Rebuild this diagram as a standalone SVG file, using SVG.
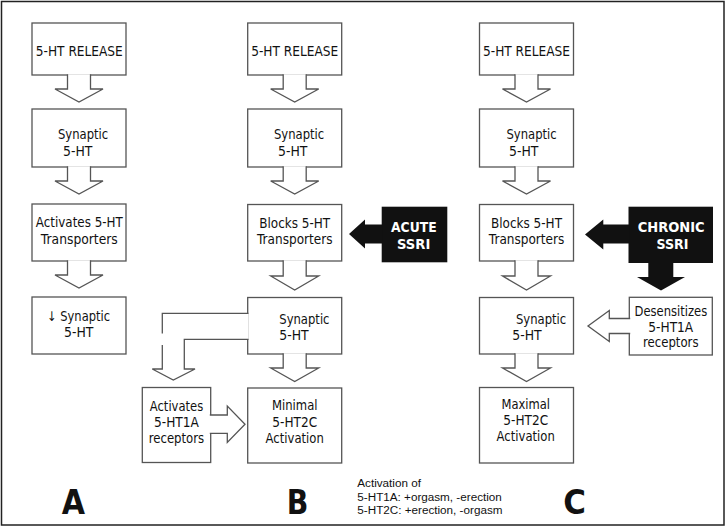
<svg xmlns="http://www.w3.org/2000/svg" width="728" height="527" viewBox="0 0 728 527">
<style>
.box{fill:#fff;stroke:#555;stroke-width:1.3}
.arr{fill:#fff;stroke:#555;stroke-width:1.3;stroke-linejoin:miter}
.fillw{fill:#fff;stroke:none}
.strk{fill:none;stroke:#555;stroke-width:1.3}
.blk{fill:#111}
.t{font-family:"DejaVu Sans",Verdana,sans-serif;font-size:13.5px;fill:#111}
.tb{font-family:"DejaVu Sans",Verdana,sans-serif;font-weight:bold;font-size:14px;fill:#fff}
.big{font-family:"DejaVu Sans",Verdana,sans-serif;font-weight:bold;font-size:34px;fill:#111}
.leg{font-family:"Liberation Sans",Arial,sans-serif;font-size:11.7px;fill:#111}
</style>
<rect width="728" height="527" fill="#fff"/>
<rect x="1.5" y="1.5" width="722.5" height="523.5" fill="none" stroke="#222" stroke-width="1.5"/>

<!-- Column A -->
<g id="a1"><rect class="box" x="32" y="23" width="94" height="52"/>
<text class="t" x="35.8" y="55.8" textLength="87" lengthAdjust="spacingAndGlyphs">5-HT RELEASE</text></g>
<g id="a2"><rect class="box" x="32" y="109" width="94" height="58"/>
<text class="t" x="58" y="138.5" textLength="50.2" lengthAdjust="spacingAndGlyphs">Synaptic</text>
<text class="t" x="63" y="155.5" textLength="29.4" lengthAdjust="spacingAndGlyphs">5-HT</text></g>
<g id="a3"><rect class="box" x="32" y="204" width="94" height="57"/>
<text class="t" x="35.8" y="227" textLength="87" lengthAdjust="spacingAndGlyphs">Activates 5-HT</text>
<text class="t" x="40.8" y="243.5" textLength="77" lengthAdjust="spacingAndGlyphs">Transporters</text></g>
<g id="a4"><rect class="box" x="32" y="297" width="94" height="57"/>
<text class="t" x="47" y="320.5" textLength="63" lengthAdjust="spacingAndGlyphs">↓ Synaptic</text>
<text class="t" x="64" y="336.5" textLength="29.4" lengthAdjust="spacingAndGlyphs">5-HT</text></g>

<!-- Column B -->
<g id="b1"><rect class="box" x="247.7" y="23" width="94" height="52"/>
<text class="t" x="251.2" y="55.8" textLength="87" lengthAdjust="spacingAndGlyphs">5-HT RELEASE</text></g>
<g id="b2"><rect class="box" x="247.7" y="109" width="94" height="58"/>
<text class="t" x="274" y="138.5" textLength="50.2" lengthAdjust="spacingAndGlyphs">Synaptic</text>
<text class="t" x="278" y="155.5" textLength="29.4" lengthAdjust="spacingAndGlyphs">5-HT</text></g>
<g id="b3"><rect class="box" x="247.7" y="204.5" width="94" height="56.5"/>
<text class="t" x="259.2" y="227.8" textLength="71" lengthAdjust="spacingAndGlyphs">Blocks 5-HT</text>
<text class="t" x="257" y="243.5" textLength="75.5" lengthAdjust="spacingAndGlyphs">Transporters</text></g>
<g id="b4"><rect class="box" x="247.7" y="297.5" width="94" height="56.5"/>
<text class="t" x="279.3" y="324" textLength="50.2" lengthAdjust="spacingAndGlyphs">Synaptic</text>
<text class="t" x="279.3" y="340" textLength="29.4" lengthAdjust="spacingAndGlyphs">5-HT</text></g>
<g id="b5"><rect class="box" x="247.7" y="388" width="94" height="75"/>
<text class="t" x="272" y="410" textLength="45.5" lengthAdjust="spacingAndGlyphs">Minimal</text>
<text class="t" x="272.3" y="426.5" textLength="44.8" lengthAdjust="spacingAndGlyphs">5-HT2C</text>
<text class="t" x="265.6" y="442.5" textLength="58.2" lengthAdjust="spacingAndGlyphs">Activation</text></g>
<g id="b-1a"><rect class="box" x="142.3" y="387.5" width="68.4" height="75"/>
<text class="t" x="149.8" y="410.5" textLength="53.4" lengthAdjust="spacingAndGlyphs">Activates</text>
<text class="t" x="154" y="427" textLength="44.9" lengthAdjust="spacingAndGlyphs">5-HT1A</text>
<text class="t" x="148.7" y="443.3" textLength="55.5" lengthAdjust="spacingAndGlyphs">receptors</text></g>
<g id="acute"><rect class="blk" x="381.7" y="206.7" width="65.6" height="55.6"/>
<text class="tb" x="391" y="231.5" textLength="45.7" lengthAdjust="spacingAndGlyphs">ACUTE</text>
<text class="tb" x="397" y="249" textLength="33.3" lengthAdjust="spacingAndGlyphs">SSRI</text></g>

<!-- Column C -->
<g id="c1"><rect class="box" x="479.5" y="23" width="94" height="52"/>
<text class="t" x="483" y="55.8" textLength="87" lengthAdjust="spacingAndGlyphs">5-HT RELEASE</text></g>
<g id="c2"><rect class="box" x="479.5" y="109" width="94" height="58"/>
<text class="t" x="506.5" y="138.5" textLength="50.2" lengthAdjust="spacingAndGlyphs">Synaptic</text>
<text class="t" x="509" y="155.5" textLength="29.4" lengthAdjust="spacingAndGlyphs">5-HT</text></g>
<g id="c3"><rect class="box" x="479.5" y="204.5" width="94" height="56.5"/>
<text class="t" x="491" y="227.8" textLength="71" lengthAdjust="spacingAndGlyphs">Blocks 5-HT</text>
<text class="t" x="488.8" y="243.5" textLength="75.5" lengthAdjust="spacingAndGlyphs">Transporters</text></g>
<g id="c4"><rect class="box" x="479.5" y="297.5" width="94" height="56.5"/>
<text class="t" x="516" y="323.5" textLength="50.2" lengthAdjust="spacingAndGlyphs">Synaptic</text>
<text class="t" x="512.3" y="339.5" textLength="29.4" lengthAdjust="spacingAndGlyphs">5-HT</text></g>
<g id="c5"><rect class="box" x="479.5" y="387.5" width="94" height="75.5"/>
<text class="t" x="501.5" y="408.5" textLength="48.5" lengthAdjust="spacingAndGlyphs">Maximal</text>
<text class="t" x="503.3" y="425" textLength="44.8" lengthAdjust="spacingAndGlyphs">5-HT2C</text>
<text class="t" x="496.6" y="440.5" textLength="58.2" lengthAdjust="spacingAndGlyphs">Activation</text></g>
<g id="c-des"><rect class="box" x="629.3" y="297.3" width="83" height="57.7"/>
<text class="t" x="634.5" y="316" textLength="72.7" lengthAdjust="spacingAndGlyphs">Desensitizes</text>
<text class="t" x="648.3" y="331.7" textLength="44.9" lengthAdjust="spacingAndGlyphs">5-HT1A</text>
<text class="t" x="643" y="347" textLength="55.5" lengthAdjust="spacingAndGlyphs">receptors</text></g>
<g id="chronic"><rect class="blk" x="628.5" y="206.7" width="84.5" height="56.3"/>
<text class="tb" x="637.7" y="231.5" textLength="67" lengthAdjust="spacingAndGlyphs">CHRONIC</text>
<text class="tb" x="656.5" y="249" textLength="32" lengthAdjust="spacingAndGlyphs">SSRI</text></g>

<!-- Connectors -->
<g id="connectors">
<path class="arr" d="M67.5 74.2 V89 H55 L79 102 L103 89 H90.5 V74.2"/>
<path class="arr" d="M67.5 166.2 V181 H55 L79 194 L103 181 H90.5 V166.2"/>
<path class="arr" d="M67.5 260.2 V275 H55 L79 288 L103 275 H90.5 V260.2"/>

<path class="arr" d="M283.2 74.2 V89 H270.7 L294.7 102 L318.7 89 H306.2 V74.2"/>
<path class="arr" d="M283.2 166.2 V181 H270.7 L294.7 194 L318.7 181 H306.2 V166.2"/>
<path class="arr" d="M283.2 260.2 V276 H270.7 L294.7 290 L318.7 276 H306.2 V260.2"/>
<path class="arr" d="M283.2 353.2 V368 H270.7 L294.7 381.5 L318.7 368 H306.2 V353.2"/>

<path class="arr" d="M515 74.2 V89 H502.5 L526.5 102 L550.5 89 H538 V74.2"/>
<path class="arr" d="M515 166.2 V181 H502.5 L526.5 194 L550.5 181 H538 V166.2"/>
<path class="arr" d="M515 260.2 V276 H502.5 L526.5 290 L550.5 276 H538 V260.2"/>
<path class="arr" d="M515 353.2 V368 H502.5 L526.5 381.5 L550.5 368 H538 V353.2"/>

<!-- bent arrow: Synaptic (B) to Activates 5-HT1A -->
<path class="fillw" d="M248.5 313.3 H162.3 V369 H152.3 L173.3 380 L195 369 H184.3 V339.3 H248.5 Z"/>
<path class="strk" d="M248.5 313.3 H162.3 V333.5 M162.3 345 V369 H152.3 L173.3 380 L195 369 H184.3 V339.3 H248.5"/>

<!-- Activates 5-HT1A to Minimal -->
<path class="arr" d="M209.8 415 H227.3 V406 L245 424.2 L227.3 442.5 V433.3 H209.8"/>

<!-- Desensitizes to Synaptic (C) -->
<path class="arr" d="M630.2 318.5 H609.3 V310.5 L588 326 L609.3 341.5 V333.5 H630.2"/>

<!-- black arrows -->
<path class="blk" d="M382.5 224.5 H365 V219.5 L349 234 L365 248.5 V243.5 H382.5 Z"/>
<path class="blk" d="M629.3 224.5 H603.3 V219.5 L585 234.5 L603.3 249.5 V243.5 H629.3 Z"/>
<path class="blk" d="M648.3 262 V277 H637 L661 290.5 L685 277 H673.3 V262 Z"/>
</g>

<!-- Panel labels -->
<g id="labels">
<text class="big" x="61.7" y="514" textLength="23.3" lengthAdjust="spacingAndGlyphs">A</text>
<text class="big" x="286.7" y="514" textLength="21.6" lengthAdjust="spacingAndGlyphs">B</text>
<text class="big" x="563.3" y="514" textLength="22.7" lengthAdjust="spacingAndGlyphs">C</text>
</g>

<g id="legend">
<text class="leg" x="357.3" y="487">Activation of</text>
<text class="leg" x="357.3" y="500.5">5-HT1A: +orgasm, -erection</text>
<text class="leg" x="357.3" y="514">5-HT2C: +erection, -orgasm</text>
</g>
</svg>
